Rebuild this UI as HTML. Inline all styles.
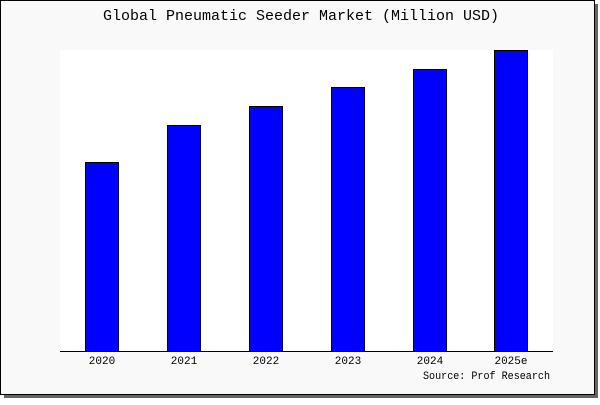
<!DOCTYPE html>
<html><head><style>body{margin:0;background:#fff}</style></head><body>
<svg width="600" height="400" xmlns="http://www.w3.org/2000/svg" font-family="Liberation Mono, DejaVu Sans Mono, monospace">
<rect x="4" y="4" width="594" height="394" fill="#666"/>
<rect x="0.5" y="0.5" width="594" height="394" fill="#f9f9f9" stroke="#000"/>
<rect x="60" y="50" width="493" height="301" fill="#fff"/>
<text x="301" y="20" font-size="15" text-anchor="middle" textLength="396" lengthAdjust="spacingAndGlyphs">Global Pneumatic Seeder Market (Million USD)</text>
<g fill="#0000ff" stroke="#000" stroke-width="1">
<rect x="85.5" y="162.5" width="33" height="189"/>
<rect x="167.5" y="125.5" width="33" height="226"/>
<rect x="249.5" y="106.5" width="33" height="245"/>
<rect x="331.5" y="87.5" width="33" height="264"/>
<rect x="413.5" y="69.5" width="33" height="282"/>
<rect x="494.5" y="50.5" width="33" height="301"/>
</g>
<line x1="60" y1="351.5" x2="553" y2="351.5" stroke="#000"/>
<g font-size="11" text-anchor="middle">
<text x="102" y="364">2020</text>
<text x="184" y="364">2021</text>
<text x="266" y="364">2022</text>
<text x="348" y="364">2023</text>
<text x="430" y="364">2024</text>
<text x="511" y="364">2025e</text>
</g>
<text x="423" y="379" font-size="11" textLength="127" lengthAdjust="spacingAndGlyphs">Source: Prof Research</text>
</svg>
</body></html>
